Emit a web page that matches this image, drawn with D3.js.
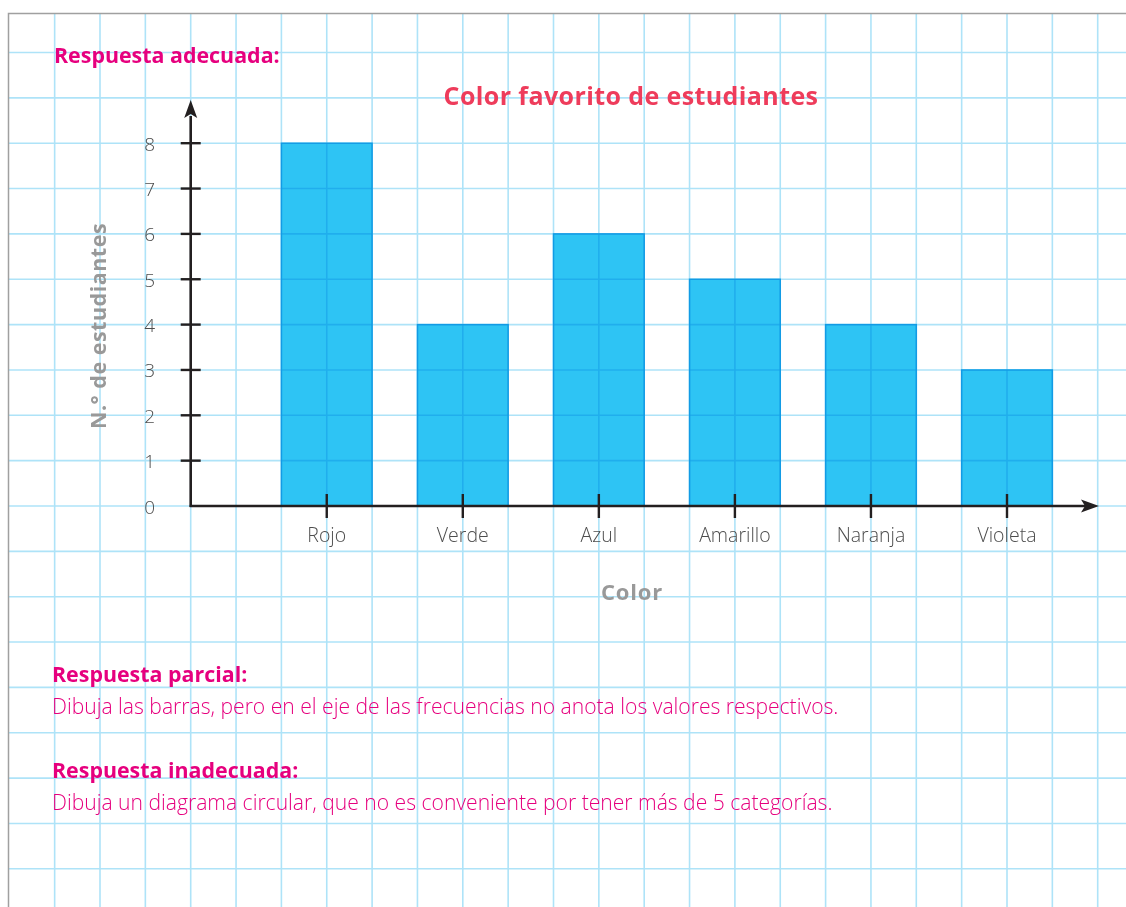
<!DOCTYPE html>
<html>
<head>
<meta charset="utf-8">
<script src="https://cdn.jsdelivr.net/npm/d3@7"></script>
<style>
  body { margin: 0; background: #fff; }
  svg { display: block; }
</style>
</head>
<body>
<div id="chart"></div>
<script>
const colores = ['Rojo', 'Verde', 'Azul', 'Amarillo', 'Naranja', 'Violeta'];
const estudiantes = [8, 4, 6, 5, 4, 3];
const yTicks = [0, 1, 2, 3, 4, 5, 6, 7, 8];
const notas = [
  { titulo: 'Respuesta parcial:', texto: 'Dibuja las barras, pero en el eje de las frecuencias no anota los valores respectivos.' },
  { titulo: 'Respuesta inadecuada:', texto: 'Dibuja un diagrama circular, que no es conveniente por tener más de 5 categorías.' }
];

const data = colores.map((c, i) => ({ color: c, value: estudiantes[i] }));

const width = 1126;
const height = 907;
const x0 = 190.7;
const unit = 45.35;
const font = '"Open Sans", sans-serif';

const svg = d3
  .select('#chart')
  .append('svg')
  .attr('width', width)
  .attr('height', height);

const y = d3.scaleLinear().domain([0, 8]).range([506, 506 - 8 * unit]);
const x = d3
  .scaleBand()
  .domain(colores)
  .range([x0 + 1.5 * unit, x0 + 19.5 * unit])
  .paddingInner(1 / 3)
  .paddingOuter(1 / 6);

// bars first, the grid paper is multiplied over them
svg.selectAll('.bar')
  .data(data)
  .enter()
  .append('rect')
  .attr('class', 'bar')
  .attr('x', (d) => x(d.color))
  .attr('y', (d) => y(d.value))
  .attr('width', x.bandwidth())
  .attr('height', (d) => y(0) - y(d.value))
  .attr('fill', '#2ec4f4')
  .attr('stroke', '#1aaeec')
  .attr('stroke-width', 1.5);

const grid = svg.append('g').style('mix-blend-mode', 'multiply');

grid.selectAll('.hline')
  .data(d3.range(-9, 11))
  .enter()
  .append('line')
  .attr('x1', 8.5)
  .attr('x2', width)
  .attr('y1', (d) => y(d))
  .attr('y2', (d) => y(d))
  .attr('stroke', '#aee3f8')
  .attr('stroke-width', 1.6);

grid.selectAll('.vline')
  .data(d3.range(-3, 21))
  .enter()
  .append('line')
  .attr('x1', (d) => x0 + d * unit)
  .attr('x2', (d) => x0 + d * unit)
  .attr('y1', 13)
  .attr('y2', height)
  .attr('stroke', '#aee3f8')
  .attr('stroke-width', 1.6);

// page border
svg.append('path')
  .attr('d', `M${width},13.5H8.5V${height}`)
  .attr('fill', 'none')
  .attr('stroke', '#a0a0a0')
  .attr('stroke-width', 1.5);

// axes
const axisColor = '#231f20';
svg.append('line')
  .attr('x1', x0).attr('x2', x0)
  .attr('y1', y(0) + 1).attr('y2', 116)
  .attr('stroke', axisColor).attr('stroke-width', 2.6);
svg.append('path')
  .attr('d', `M${x0},100L${x0 - 6.5},118L${x0},114L${x0 + 6.5},118Z`)
  .attr('fill', axisColor);

svg.append('line')
  .attr('x1', x0 - 1).attr('x2', 1085)
  .attr('y1', y(0)).attr('y2', y(0))
  .attr('stroke', axisColor).attr('stroke-width', 2.6);
svg.append('path')
  .attr('d', `M1099,${y(0)}L1081,${y(0) - 6.5}L1085,${y(0)}L1081,${y(0) + 6.5}Z`)
  .attr('fill', axisColor);

svg.selectAll('.ytick')
  .data(yTicks.slice(1))
  .enter()
  .append('line')
  .attr('x1', x0 - 10).attr('x2', x0 + 10)
  .attr('y1', (d) => y(d)).attr('y2', (d) => y(d))
  .attr('stroke', axisColor).attr('stroke-width', 2.4);

svg.selectAll('.ylabel')
  .data(yTicks)
  .enter()
  .append('text')
  .attr('x', 155)
  .attr('y', (d) => y(d) + 7.5)
  .attr('text-anchor', 'end')
  .attr('font-family', font)
  .attr('font-weight', 300)
  .attr('font-size', 19)
  .attr('fill', '#4d4d4d')
  .text((d) => d);

svg.selectAll('.xtick')
  .data(colores)
  .enter()
  .append('line')
  .attr('x1', (d) => x(d) + x.bandwidth() / 2)
  .attr('x2', (d) => x(d) + x.bandwidth() / 2)
  .attr('y1', y(0) - 12).attr('y2', y(0) + 12)
  .attr('stroke', axisColor).attr('stroke-width', 2.4);

svg.selectAll('.xlabel')
  .data(colores)
  .enter()
  .append('text')
  .attr('x', (d) => x(d) + x.bandwidth() / 2)
  .attr('y', 542)
  .attr('text-anchor', 'middle')
  .attr('font-family', font)
  .attr('font-weight', 300)
  .attr('font-size', 19.5)
  .attr('fill', '#4d4d4d')
  .text((d) => d);

// titles
svg.append('text')
  .attr('x', 631)
  .attr('y', 105)
  .attr('text-anchor', 'middle')
  .attr('font-family', font)
  .attr('font-weight', 700)
  .attr('font-size', 25)
  .attr('letter-spacing', 0.4)
  .attr('fill', '#ee3c5b')
  .text('Color favorito de estudiantes');

svg.append('text')
  .attr('x', 632)
  .attr('y', 600)
  .attr('text-anchor', 'middle')
  .attr('font-family', font)
  .attr('font-weight', 700)
  .attr('font-size', 22)
  .attr('letter-spacing', 0.8)
  .attr('fill', '#999')
  .text('Color');

svg.append('text')
  .attr('transform', 'translate(106,326) rotate(-90)')
  .attr('text-anchor', 'middle')
  .attr('font-family', font)
  .attr('font-weight', 700)
  .attr('font-size', 21.5)
  .attr('letter-spacing', 0.5)
  .attr('fill', '#999')
  .text('N.° de estudiantes');

// answer notes
const pink = '#e6007e';
svg.append('text')
  .attr('x', 54)
  .attr('y', 63)
  .attr('font-family', font)
  .attr('font-weight', 700)
  .attr('font-size', 21.4)
  .attr('fill', pink)
  .text('Respuesta adecuada:');

const nota = svg.selectAll('.nota')
  .data(notas)
  .enter()
  .append('g')
  .attr('transform', (d, i) => `translate(52,${682 + i * 96})`);

nota.append('text')
  .attr('font-family', font)
  .attr('font-weight', 700)
  .attr('font-size', 21.4)
  .attr('fill', pink)
  .text((d) => d.titulo);

nota.append('text')
  .attr('y', 32)
  .attr('font-family', font)
  .attr('font-weight', 300)
  .attr('font-size', 21.1)
  .attr('fill', pink)
  .text((d) => d.texto);
</script>
</body>
</html>
